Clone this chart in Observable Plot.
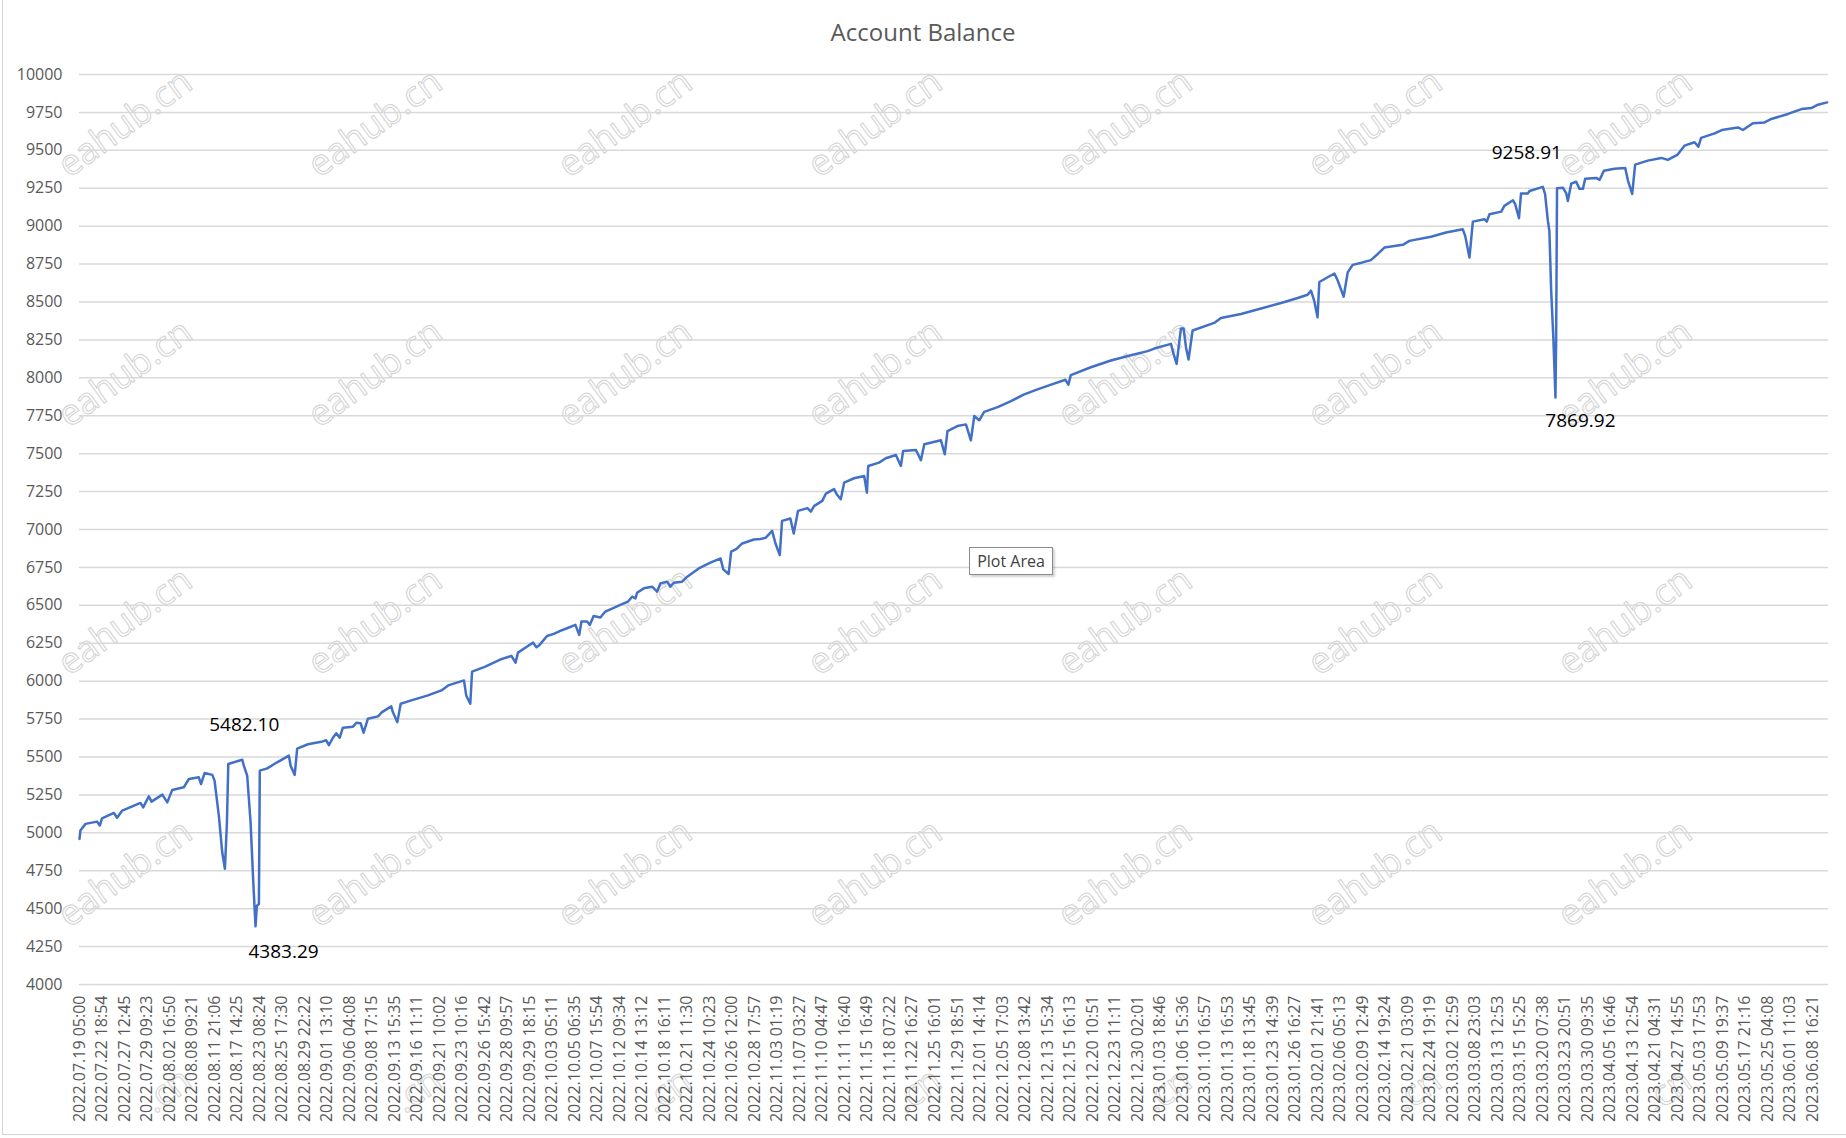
<!DOCTYPE html>
<html>
<head>
<meta charset="utf-8">
<script src="https://cdn.jsdelivr.net/npm/d3@7"></script>
<script src="https://cdn.jsdelivr.net/npm/@observablehq/plot@0.6"></script>
<style>
  html, body { margin: 0; padding: 0; background: #fff; }
  #wrap { position: relative; width: 1846px; height: 1138px; overflow: hidden; font-family: "Open Sans", sans-serif; }
  #wm { position: absolute; left: 0; top: 0; z-index: 0; pointer-events: none; }
  #title { position: relative; z-index: 1; height: 64px; line-height: 64px; text-align: center; font-size: 24px; color: #595959; }
  #chart { position: relative; z-index: 1; }
  #frame { position: absolute; left: 2px; top: -2px; width: 1900px; height: 1136px; border-left: 1.5px solid #d4d4d4; border-bottom: 1.5px solid #d4d4d4; z-index: 2; pointer-events: none; }
  #tip { position: absolute; left: 969px; top: 547px; width: 82px; height: 26px; line-height: 26px; text-align: center; font-size: 16px; color: #404040; background: #fff; border: 1px solid #8c8c8c; box-shadow: 2px 2px 2px rgba(0,0,0,0.18); z-index: 3; }
</style>
</head>
<body>
<div id="wrap">
  <svg id="wm" width="1846" height="1138"></svg>
  <div id="title">Account Balance</div>
  <div id="chart"></div>
  <div id="tip">Plot Area</div>
  <div id="frame"></div>
</div>
<script>
// Category labels shown on the x axis (one every label step)
const xLabels = [
  "2022.07.19 05:00","2022.07.22 18:54","2022.07.27 12:45","2022.07.29 09:23","2022.08.02 16:50",
  "2022.08.08 09:21","2022.08.11 21:06","2022.08.17 14:25","2022.08.23 08:24","2022.08.25 17:30",
  "2022.08.29 22:22","2022.09.01 13:10","2022.09.06 04:08","2022.09.08 17:15","2022.09.13 15:35",
  "2022.09.16 11:11","2022.09.21 10:02","2022.09.23 10:16","2022.09.26 15:42","2022.09.28 09:57",
  "2022.09.29 18:15","2022.10.03 05:11","2022.10.05 06:35","2022.10.07 15:54","2022.10.12 09:34",
  "2022.10.14 13:12","2022.10.18 16:11","2022.10.21 11:30","2022.10.24 10:23","2022.10.26 12:00",
  "2022.10.28 17:57","2022.11.03 01:19","2022.11.07 03:27","2022.11.10 04:47","2022.11.11 16:40",
  "2022.11.15 16:49","2022.11.18 07:22","2022.11.22 16:27","2022.11.25 16:01","2022.11.29 18:51",
  "2022.12.01 14:14","2022.12.05 17:03","2022.12.08 13:42","2022.12.13 15:34","2022.12.15 16:13",
  "2022.12.20 10:51","2022.12.23 11:11","2022.12.30 02:01","2023.01.03 18:46","2023.01.06 15:36",
  "2023.01.10 16:57","2023.01.13 16:53","2023.01.18 13:45","2023.01.23 14:39","2023.01.26 16:27",
  "2023.02.01 21:41","2023.02.06 05:13","2023.02.09 12:49","2023.02.14 19:24","2023.02.21 03:09",
  "2023.02.24 19:19","2023.03.02 12:59","2023.03.08 23:03","2023.03.13 12:53","2023.03.15 15:25",
  "2023.03.20 07:38","2023.03.23 20:51","2023.03.30 09:35","2023.04.05 16:46","2023.04.13 12:54",
  "2023.04.21 04:31","2023.04.27 14:55","2023.05.03 17:53","2023.05.09 19:37","2023.05.17 21:16",
  "2023.05.25 04:08","2023.06.01 11:03","2023.06.08 16:21"
];

// Y axis tick values
const yTicks = [4000,4250,4500,4750,5000,5250,5500,5750,6000,6250,6500,6750,7000,7250,7500,7750,8000,8250,8500,8750,9000,9250,9500,9750,10000];

// Position of each sampled point along the category axis (in label steps)
const pos = [
  0,0.04,0.27,0.78,0.9,1.0,1.53,1.67,1.9,2.71,
  2.83,3.08,3.2,3.68,3.9,4.12,4.63,4.86,5.3,5.4,
  5.56,5.9,6.0,6.19,6.34,6.46,6.55,6.61,7.23,7.3,
  7.45,7.6,7.72,7.82,7.88,7.97,8.01,8.34,8.78,9.3,
  9.38,9.56,9.67,10.15,10.74,10.96,11.08,11.26,11.41,11.56,
  11.7,12.15,12.3,12.49,12.62,12.81,13.26,13.44,13.85,13.92,
  14.12,14.27,14.74,15.48,16.08,16.38,17.08,17.18,17.36,17.44,
  18.0,18.74,19.19,19.37,19.48,19.92,20.15,20.3,20.44,20.77,
  21.07,21.36,21.66,22.03,22.2,22.3,22.55,22.67,22.84,23.14,
  23.36,24.03,24.36,24.55,24.7,24.77,25.07,25.44,25.66,25.81,
  26.1,26.25,26.4,26.77,27.0,27.51,28.03,28.48,28.6,28.84,
  28.95,29.19,29.44,29.96,30.25,30.48,30.77,30.92,31.11,31.21,
  31.58,31.73,31.92,32.34,32.49,32.64,33.0,33.16,33.52,33.64,
  33.82,33.97,34.41,34.86,34.98,35.04,35.52,35.82,36.27,36.49,
  36.59,37.16,37.38,37.53,38.27,38.44,38.56,39.0,39.38,39.6,
  39.75,39.97,40.19,40.79,41.38,41.97,42.56,43.1,43.8,43.93,
  44.04,44.93,45.82,46.71,47.45,47.75,48.49,48.61,48.74,48.93,
  49.05,49.16,49.27,49.45,50.41,50.71,51.6,52.49,53.38,54.12,
  54.56,54.71,54.86,55.0,55.08,55.45,55.75,55.9,56.16,56.34,
  56.56,57.0,57.37,57.7,57.97,58.79,59.08,60.04,60.71,61.45,
  61.56,61.75,61.9,62.41,62.52,62.64,63.16,63.3,63.68,63.78,
  63.95,64.04,64.34,64.42,65.01,65.11,65.23,65.3,65.38,65.48,
  65.57,65.6,65.64,65.9,66.05,66.12,66.27,66.49,66.64,66.79,
  66.89,67.38,67.53,67.72,68.19,68.67,68.79,68.98,69.11,69.67,
  70.27,70.56,71.0,71.3,71.75,71.92,72.04,72.64,72.96,73.68,
  73.9,74.34,74.86,75.16,75.9,76.5,76.94,77.23,77.64
];

// Account balance at each sampled point
const balance = [
  4960,5015,5059,5074,5048,5096,5131,5099,5147,5197,
  5168,5241,5206,5252,5201,5283,5300,5355,5366,5322,
  5395,5382,5344,5114,4872,4763,5070,5454,5482.10,5443,
  5377,5070,4675,4383.29,4520,4530,5410,5425,5465,5509,
  5443,5382,5555,5584,5600,5610,5578,5627,5656,5627,
  5693,5700,5726,5722,5660,5752,5768,5796,5834,5796,
  5730,5851,5873,5906,5939,5972,6005,5906,5851,6063,
  6094,6145,6167,6122,6188,6232,6254,6224,6239,6298,
  6312,6331,6349,6371,6305,6393,6393,6371,6430,6420,
  6459,6503,6524,6557,6546,6583,6612,6623,6590,6645,
  6656,6623,6649,6656,6689,6743,6781,6809,6737,6707,
  6854,6872,6908,6934,6937,6945,6991,6908,6832,7057,
  7073,6974,7123,7141,7118,7156,7189,7237,7266,7233,
  7200,7309,7338,7353,7243,7419,7441,7470,7491,7419,
  7518,7524,7457,7562,7588,7496,7649,7682,7693,7588,
  7748,7720,7776,7807,7847,7891,7924,7952,7987,7955,
  8018,8070,8114,8149,8176,8193,8224,8154,8092,8325,
  8325,8197,8121,8312,8362,8395,8421,8457,8493,8526,
  8548,8575,8504,8399,8632,8663,8688,8640,8535,8695,
  8745,8761,8776,8820,8859,8877,8903,8930,8958,8980,
  8936,8793,9030,9046,9030,9079,9096,9134,9171,9145,
  9053,9215,9216,9232,9258.91,9211,9039,8969,8574,8250,
  7869.92,8250,9250,9254,9216,9166,9280,9293,9246,9246,
  9312,9318,9305,9366,9378,9384,9301,9213,9406,9432,
  9450,9437,9472,9531,9553,9524,9582,9612,9634,9651,
  9634,9678,9684,9707,9740,9772,9779,9801,9816
];

// Labelled extremes
const annoPos = [7.23, 7.82, 65.01, 65.57];
const annoValue = [5482.10, 4383.29, 9258.91, 7869.92];

const points = pos.map((p, i) => ({pos: p, balance: balance[i]}));
const annos = annoPos.map((p, i) => ({pos: p, value: annoValue[i]}));
const xTickPos = xLabels.map((_, i) => i);

const annoOffsets = [
  {dx: 2, dy: -35},
  {dx: 28, dy: 26},
  {dx: -16, dy: -34},
  {dx: 25, dy: 23}
];

const chart = Plot.plot({
  width: 1846,
  height: 1074,
  marginLeft: 79,
  marginRight: 18,
  marginTop: 10,
  marginBottom: 154,
  style: {fontFamily: "Open Sans, sans-serif", fontSize: "16px", color: "#595959", background: "transparent", overflow: "visible"},
  x: {type: "linear", domain: [0, 77.7], axis: null, label: null},
  y: {domain: [4000, 10000], axis: null, label: null},
  marks: [
    Plot.ruleY(yTicks, {stroke: "#d9d9d9", strokeWidth: 1.5}),
    Plot.axisY(yTicks, {tickSize: 0, tickPadding: 17, tickFormat: d => String(d), label: null, fontSize: 16}),
    Plot.axisX(xTickPos, {tickSize: 0, tickPadding: 11, tickRotate: -90, tickFormat: i => xLabels[i], label: null, fontSize: 16}),
    Plot.line(points, {x: "pos", y: "balance", stroke: "#4170c6", strokeWidth: 2.5, strokeLinejoin: "round"}),
    ...annos.map((a, i) => Plot.text([a], {
      x: "pos", y: "value", text: d => d.value.toFixed(2),
      dx: annoOffsets[i].dx, dy: annoOffsets[i].dy,
      fill: "#000", fontSize: 19, fontFamily: "Open Sans, sans-serif"
    }))
  ]
});
document.getElementById("chart").appendChild(chart);

// faint watermark grid (fragments at the bottom edge keep only their visible tail)
const wm = d3.select("#wm");
const wmCols = [124, 374, 624, 874, 1124, 1374, 1624];
const wmRows = [122, 372, 620, 872];
const ang = -36, rad = ang * Math.PI / 180;
function mark(x, y, txt, anchor) {
  wm.append("text")
    .attr("transform", `translate(${x},${y}) rotate(${ang})`)
    .attr("text-anchor", anchor)
    .attr("dominant-baseline", "central")
    .attr("font-family", "Open Sans, sans-serif")
    .attr("font-size", 36)
    .attr("fill", "none")
    .attr("stroke", "#d2d2d2")
    .attr("stroke-width", 1)
    .text(txt);
}
for (const cy of wmRows) for (const cx of wmCols) mark(cx, cy, "eahub.cn", "middle");
// bottom row: only the tail end that lies inside the picture
const half = 77;
for (const cx of wmCols) {
  mark(cx + half * Math.cos(rad), 1120 + half * Math.sin(rad), ".cn", "end");
}
</script>
</body>
</html>
